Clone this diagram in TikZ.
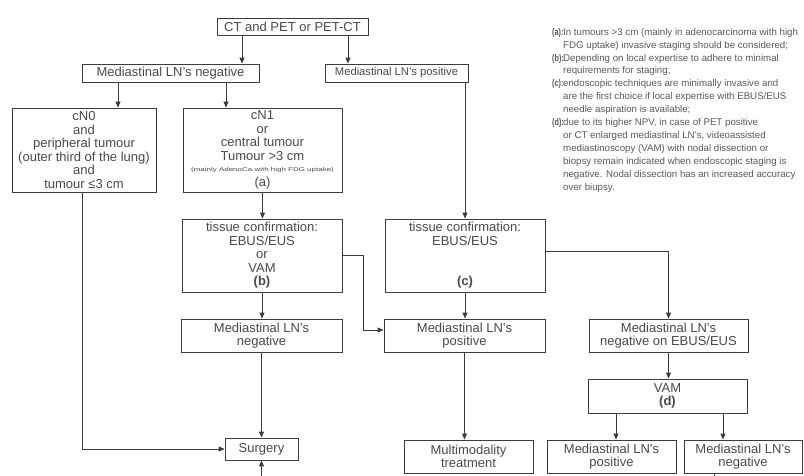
\documentclass[tikz,border=0pt]{standalone}
\usepackage{fontspec}
\setmainfont{Liberation Sans}
\usepackage{graphicx}
\usetikzlibrary{arrows.meta,calc}
\definecolor{linec}{HTML}{3C3C3C}
\definecolor{txtc}{HTML}{4A4A4A}
\definecolor{notec}{HTML}{5A5A5A}
\newcommand\notelab[1]{\makebox[11pt][l]{\bfseries\scalebox{0.75}[1]{#1}}}
\newcommand\noteind{\hspace*{11pt}}
\tikzset{
  box/.style={draw=linec, line width=0.9pt, text=txtc, font=\fontsize{13}{13.5}\selectfont, align=center, inner sep=0pt},
  arr/.style={draw=linec, line width=0.9pt, -{Triangle[length=6pt,width=5pt]}},
  ln/.style={draw=linec, line width=0.9pt},
  notes/.style={text=notec, font=\fontsize{9.7}{12.9}\selectfont, align=left, inner sep=0pt, anchor=north west},
}
\begin{document}
\begin{tikzpicture}[x=1pt,y=-1pt]
\useasboundingbox (0,0) rectangle (804,475);
\clip (0,0) rectangle (804,475);
\fill[white] (0,0) rectangle (804,475);

\node[box, minimum width=151pt, minimum height=17pt] (top) at (292.5,26.5) {CT and PET or PET-CT};
\node[box, minimum width=177pt, minimum height=18pt] (neg) at (170.5,73) {Mediastinal LN's negative};
\node[box, minimum width=143pt, minimum height=18pt, font=\fontsize{11.2}{13}\selectfont] (pos) at (396.5,73) {Mediastinal LN's positive};
\node[box, minimum width=144pt, minimum height=84pt] (cN0) at (84,150)
  {cN0\\and\\peripheral tumour\\(outer third of the lung)\\and\\tumour ≤3 cm};
\node[box, minimum width=159pt, minimum height=84pt] (cN1) at (262.5,150)
  {cN1\\or\\central tumour\\Tumour >3 cm\\[-2pt]{\fontsize{5.5}{6}\selectfont\scalebox{1.45}[1]{(mainly AdenoCa with high FDG uptake)}}\\[1pt](a)};
\node[box, minimum width=160pt, minimum height=73pt] (tissueL) at (262,255.5)
  {tissue confirmation:\\EBUS/EUS\\or\\VAM\\\textbf{(b)}};
\node[box, minimum width=160pt, minimum height=73pt] (tissueR) at (465,255.5)
  {tissue confirmation:\\EBUS/EUS\\[27pt]\textbf{(c)}};
\node[box, minimum width=161pt, minimum height=33pt] (negL) at (261.5,335.5) {Mediastinal LN's\\negative};
\node[box, minimum width=161pt, minimum height=33pt] (posM) at (464.5,335.5) {Mediastinal LN's\\positive};
\node[box, minimum width=159pt, minimum height=33pt] (negEBUS) at (668.5,335.5) {Mediastinal LN's\\negative on EBUS/EUS};
\node[box, minimum width=159pt, minimum height=34pt] (VAM) at (667.5,396) {VAM\\\textbf{(d)}};
\node[box, minimum width=73pt, minimum height=22pt] (surgery) at (261.5,449) {Surgery};
\node[box, minimum width=129pt, minimum height=33pt] (multi) at (468.5,456.5) {Multimodality\\treatment};
\node[box, minimum width=129pt, minimum height=33pt] (bl) at (611.5,456.5) {Mediastinal LN's\\positive};
\node[box, minimum width=118pt, minimum height=33pt] (br) at (743,456.5) {Mediastinal LN's\\negative};

\node[notes] (notes) at (552,28) {%
\notelab{(a):}In tumours >3 cm (mainly in adenocarcinoma with high\\
\noteind FDG uptake) invasive staging should be considered;\\
\notelab{(b):}Depending on local expertise to adhere to minimal\\
\noteind requirements for staging;\\
\notelab{(c):}endoscopic techniques are minimally invasive and\\
\noteind are the first choice if local expertise with EBUS/EUS\\
\noteind needle aspiration is available;\\
\notelab{(d):}due to its higher NPV, in case of PET positive\\
\noteind or CT enlarged mediastinal LN's, videoassisted\\
\noteind mediastinoscopy (VAM) with nodal dissection or\\
\noteind biopsy remain indicated when endoscopic staging is\\
\noteind negative. Nodal dissection has an increased accuracy\\
\noteind over biupsy.};

\coordinate (sb) at (261.5,495);
\coordinate (brb) at (714,495);

\draw[arr] (242,0 |- top.south) -- (242,0 |- neg.north);
\draw[arr] (348,0 |- top.south) -- (348,0 |- pos.north);
\draw[arr] (118,0 |- neg.south) -- (118,0 |- cN0.north);
\draw[arr] (226,0 |- neg.south) -- (226,0 |- cN1.north);
\draw[arr] (cN1.south) -- (cN1.south |- tissueL.north);
\draw[arr] (tissueR.north |- pos.south) -- (tissueR.north);
\draw[arr] (tissueL.south) -- (tissueL.south |- negL.north);
\draw[arr] (tissueL.east) -- (363,0 |- tissueL.east) |- ([yshift=5.5pt]posM.west);
\draw[arr] ([yshift=4pt]tissueR.east) -| (negEBUS.north);
\draw[arr] (tissueR.south) -- (tissueR.south |- posM.north);
\draw[arr] (negL.south) -- (negL.south |- surgery.north);
\draw[arr] (82,0 |- cN0.south) |- (surgery.west);
\draw[arr] (sb) -- (surgery.south);
\draw[arr] (posM.south) -- (posM.south |- multi.north);
\draw[arr] (negEBUS.south) -- (negEBUS.south |- VAM.north);
\draw[arr] (616,0 |- VAM.south) -- (616,0 |- bl.north);
\draw[arr] (723,0 |- VAM.south) -- (723,0 |- br.north);
\draw[ln] (714,0 |- br.south) -- (brb);
\end{tikzpicture}
\end{document}
